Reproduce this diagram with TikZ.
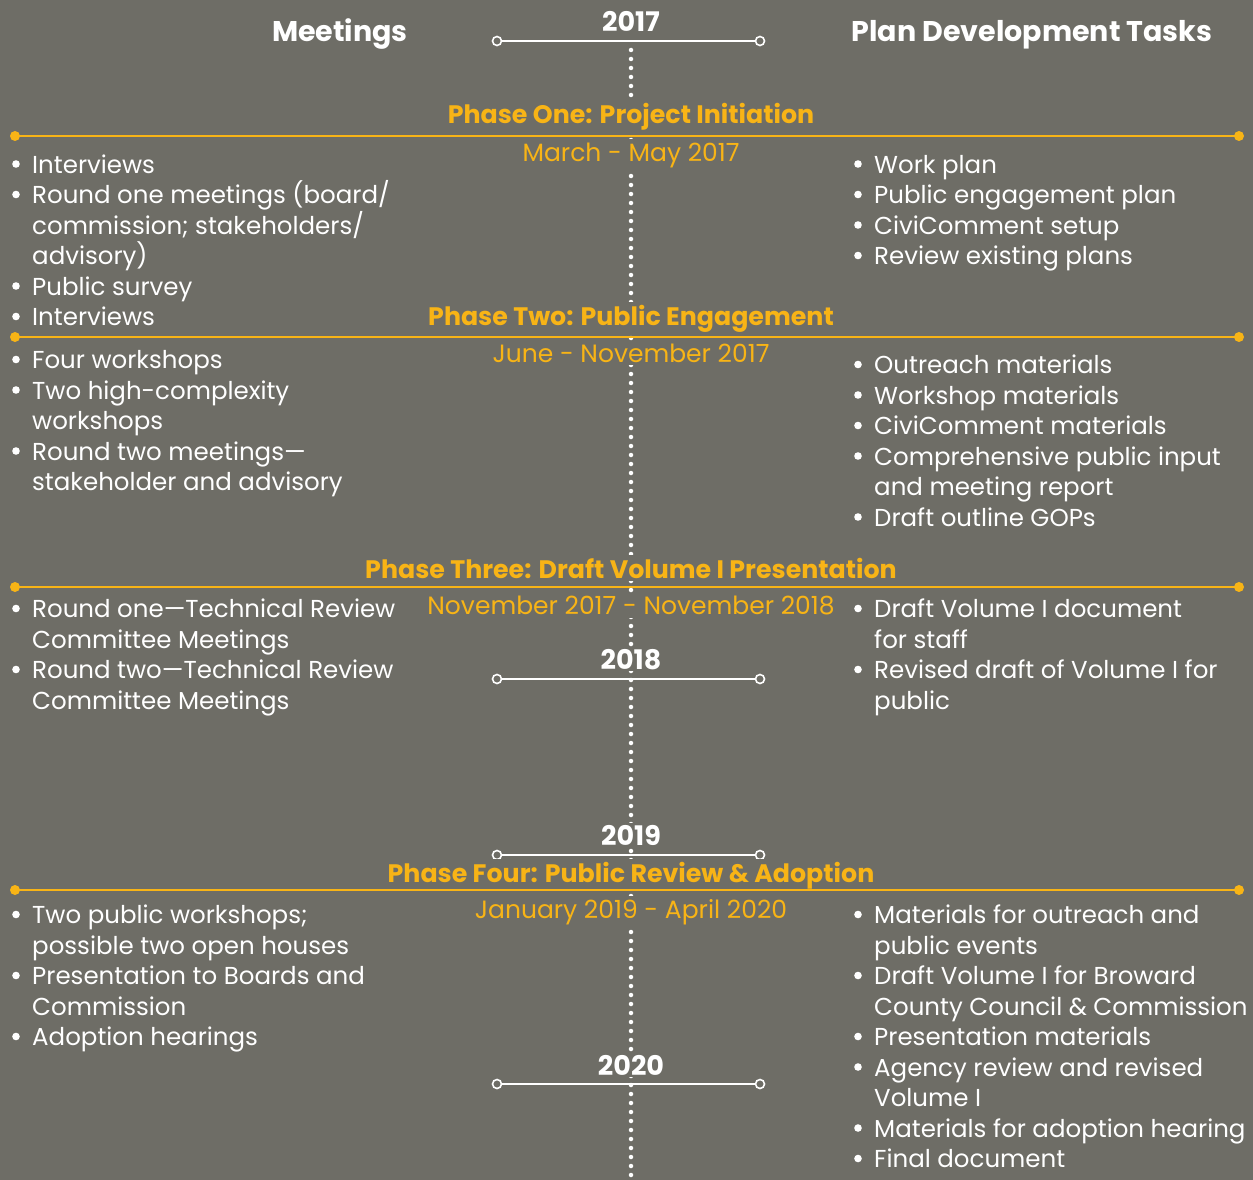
\documentclass[tikz,border=0pt]{standalone}
\usepackage{fontspec}
\setmainfont{Poppins}
\usetikzlibrary{positioning}

\definecolor{bggray}{RGB}{110,109,102}
\definecolor{phaseyellow}{RGB}{248,180,22}

\tikzset{
  body/.style={anchor=base west, text=white, inner sep=0pt, font=\fontsize{24.5}{29}\selectfont},
  bulletdot/.style={fill=white},
  head/.style={anchor=base, text=white, inner sep=0pt, font=\bfseries\fontsize{28.5}{32}\selectfont},
  year/.style={anchor=base, text=white, fill=bggray, inner sep=2pt, font=\bfseries\fontsize{27}{30}\selectfont},
  phasetitle/.style={anchor=base, text=phaseyellow, fill=bggray, inner sep=3pt, font=\bfseries\fontsize{25.3}{28}\selectfont},
  phasedate/.style={anchor=base, text=phaseyellow, fill=bggray, inner sep=3pt, font=\fontsize{25}{28}\selectfont},
  yearline/.style={white, line width=2pt},
  phaseline/.style={phaseyellow, line width=2.5pt},
}

\begin{document}
\begin{tikzpicture}[x=1pt, y=-1pt]
    \useasboundingbox (0,0) rectangle (1253,1180);
    \fill[bggray] (0,0) rectangle (1253,1180);

    % Dotted center line
    \draw[white, line width=4.5pt, line cap=round, dash pattern=on 0pt off 9pt] (631,50) -- (631,1176);

    % Column headings
    \node[head] (meet) at (340,42) {Meetings};
    \node[head] (tasks) at (1032,42) {Plan Development Tasks};

    % Year markers
    \foreach \yr/\y/\b in {2017/41/32, 2018/679/669, 2019/855/845, 2020/1084/1075} {
        \draw[yearline] (497,\y) -- (760,\y);
        \filldraw[fill=bggray, draw=white, line width=1.6pt] (497,\y) circle (4.5) (760,\y) circle (4.5);
        \node[year] (y\yr) at (631,\b) {\yr};
    }

    % Phase titles and dates
    \node[phasetitle] (ph1) at (631,124) {Phase One: Project Initiation};
    \node[phasedate] (d1) at (631,161) {March - May 2017};
    \node[phasetitle] (ph2) at (631,325) {Phase Two: Public Engagement};
    \node[phasedate] (d2) at (631,362) {June - November 2017};
    \node[phasetitle] (ph3) at (631,578) {Phase Three: Draft Volume I Presentation};
    \node[phasedate] (d3) at (631,614) {November 2017 - November 2018};
    \node[phasetitle] (ph4) at (631,882) {Phase Four: Public Review \& Adoption};
    \node[phasedate] (d4) at (631,918) {January 2019 - April 2020};

    % Phase lines
    \foreach \y in {136,337,587,890} {
        \draw[phaseline] (15,\y) -- (1239,\y);
        \fill[phaseyellow] (15,\y) circle (5) (1239,\y) circle (5);
    }

    % Phase one
    \foreach \b/\t [count=\i, evaluate=\i as \y using 173+30.5*(\i-1)] in {1/Interviews, 1/{Round one meetings (board/}, 0/{commission; stakeholders/}, 0/advisory), 1/Public survey, 1/Interviews} {
        \node[body] (p1l-\i) at (32,\y) {\t};
        \ifnum\b=1 \fill[bulletdot] (16,\y-9) circle (3.8); \fi
    }
    \foreach \b/\t [count=\i, evaluate=\i as \y using 173+30.5*(\i-1)] in {1/Work plan, 1/Public engagement plan, 1/CiviComment setup, 1/Review existing plans} {
        \node[body] (p1r-\i) at (874,\y) {\t};
        \ifnum\b=1 \fill[bulletdot] (858,\y-9) circle (3.8); \fi
    }

    % Phase two
    \foreach \b/\t [count=\i, evaluate=\i as \y using 368.5+30.5*(\i-1)] in {1/Four workshops, 1/Two high-complexity, 0/workshops, 1/Round two meetings—, 0/stakeholder and advisory} {
        \node[body] (p2l-\i) at (32,\y) {\t};
        \ifnum\b=1 \fill[bulletdot] (16,\y-9) circle (3.8); \fi
    }
    \foreach \b/\t [count=\i, evaluate=\i as \y using 373.5+30.5*(\i-1)] in {1/Outreach materials, 1/Workshop materials, 1/CiviComment materials, 1/Comprehensive public input, 0/and meeting report, 1/Draft outline GOPs} {
        \node[body] (p2r-\i) at (874,\y) {\t};
        \ifnum\b=1 \fill[bulletdot] (858,\y-9) circle (3.8); \fi
    }

    % Phase three
    \foreach \b/\t [count=\i, evaluate=\i as \y using 617.5+30.5*(\i-1)] in {1/Round one—Technical Review, 0/Committee Meetings, 1/Round two—Technical Review, 0/Committee Meetings} {
        \node[body] (p3l-\i) at (32,\y) {\t};
        \ifnum\b=1 \fill[bulletdot] (16,\y-9) circle (3.8); \fi
    }
    \foreach \b/\t [count=\i, evaluate=\i as \y using 617.5+30.5*(\i-1)] in {1/Draft Volume I document, 0/for staff, 1/Revised draft of Volume I for, 0/public} {
        \node[body] (p3r-\i) at (874,\y) {\t};
        \ifnum\b=1 \fill[bulletdot] (858,\y-9) circle (3.8); \fi
    }

    % Phase four
    \foreach \b/\t [count=\i, evaluate=\i as \y using 923.5+30.5*(\i-1)] in {1/{Two public workshops;}, 0/possible two open houses, 1/Presentation to Boards and, 0/Commission, 1/Adoption hearings} {
        \node[body] (p4l-\i) at (32,\y) {\t};
        \ifnum\b=1 \fill[bulletdot] (16,\y-9) circle (3.8); \fi
    }
    \foreach \b/\t [count=\i, evaluate=\i as \y using 923.5+30.5*(\i-1)] in {1/Materials for outreach and, 0/public events, 1/Draft Volume I for Broward, 0/{County Council \& Commission}, 1/Presentation materials, 1/Agency review and revised, 0/Volume I, 1/Materials for adoption hearing, 1/Final document} {
        \node[body] (p4r-\i) at (874,\y) {\t};
        \ifnum\b=1 \fill[bulletdot] (858,\y-9) circle (3.8); \fi
    }
\end{tikzpicture}
\end{document}
